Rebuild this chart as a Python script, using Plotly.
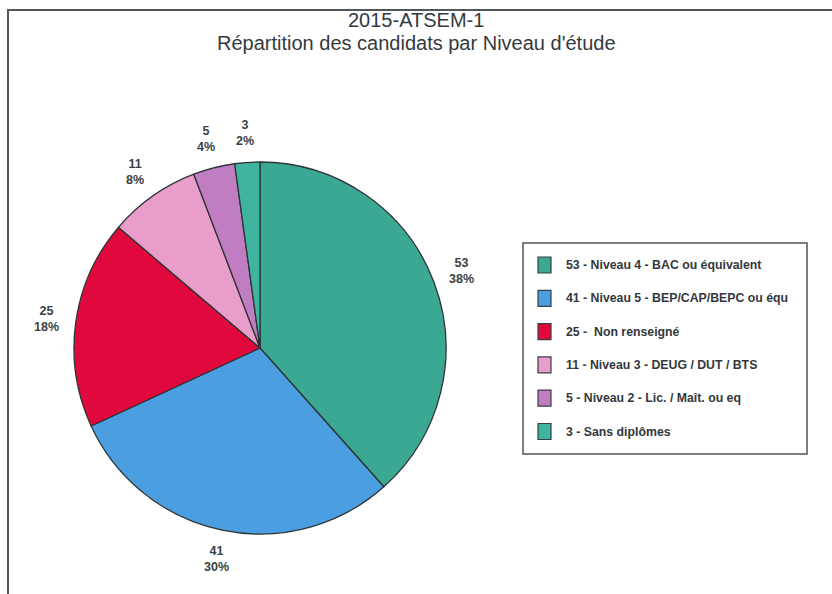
import math
import plotly.graph_objects as go

title_lines = ["2015-ATSEM-1", "Répartition des candidats par Niveau d'étude"]
categories = [
    "Niveau 4 - BAC ou équivalent",
    "Niveau 5 - BEP/CAP/BEPC ou équ",
    " Non renseigné",
    "Niveau 3 - DEUG / DUT / BTS",
    "Niveau 2 - Lic. / Maît. ou eq",
    "Sans diplômes",
]
values = [53, 41, 25, 11, 5, 3]
colors = ["#3aa892", "#4b9fe1", "#e0083c", "#e99dcb", "#c17dc2", "#3fb5a0"]

W, H = 832, 594
def px(x):
    return x / W
def py(y):
    return 1 - y / H

FONT = "Liberation Sans, Arial, sans-serif"
cx, cy, r = 260, 348, 186
label_dist = r + 30

fig = go.Figure(
    go.Pie(
        labels=[f"{v} - {c}" for v, c in zip(values, categories)],
        values=values,
        sort=False,
        direction="clockwise",
        rotation=0,
        marker=dict(colors=colors, line=dict(color="#2e3436", width=1.3)),
        textinfo="none",
        hoverinfo="label+value+percent",
        showlegend=False,
        domain=dict(x=[px(cx - r), px(cx + r)], y=[py(cy + r), py(cy - r)]),
    )
)

shapes = [
    # outer frame
    dict(type="rect", xref="paper", yref="paper", x0=px(8), x1=px(845), y0=py(610), y1=py(10),
         line=dict(color="#4f565c", width=2), fillcolor="rgba(0,0,0,0)", layer="below"),
    # legend box
    dict(type="rect", xref="paper", yref="paper", x0=px(523), x1=px(807), y0=py(454), y1=py(243),
         line=dict(color="#4f565c", width=1.5), fillcolor="rgba(0,0,0,0)"),
]
annotations = []

# title (two lines)
for i, t in enumerate(title_lines):
    annotations.append(dict(xref="paper", yref="paper", x=0.5, y=py(20 + i * 23),
                            xanchor="center", yanchor="middle", showarrow=False,
                            text=t, font=dict(family=FONT, size=20, color="#333a40")))

# data labels around the pie, at each slice's mid angle
total = sum(values)
cum = 0
for v in values:
    mid = (cum + v / 2) / total * 2 * math.pi
    cum += v
    lx = cx + label_dist * math.sin(mid)
    ly = cy - label_dist * math.cos(mid)
    annotations.append(dict(xref="paper", yref="paper", x=px(lx), y=py(ly),
                            xanchor="center", yanchor="middle", showarrow=False,
                            text=f"<b>{v}</b><br><b>{round(v / total * 100)}%</b>",
                            font=dict(family=FONT, size=12.5, color="#3a3f44")))

# legend
y0 = 265
step = 33.3
for i, (v, c, col) in enumerate(zip(values, categories, colors)):
    yc = y0 + i * step
    shapes.append(dict(type="rect", xref="paper", yref="paper",
                       x0=px(538), x1=px(551), y0=py(yc + 8), y1=py(yc - 8),
                       fillcolor=col, line=dict(color="#3a3f44", width=1.2)))
    annotations.append(dict(xref="paper", yref="paper", x=px(564), y=py(yc),
                            xanchor="left", yanchor="middle", showarrow=False,
                            text=f"<b>{v} - {c}</b>",
                            font=dict(family=FONT, size=12.3, color="#33383c")))

fig.update_layout(
    width=W, height=H,
    margin=dict(l=0, r=0, t=0, b=0),
    paper_bgcolor="white",
    plot_bgcolor="white",
    shapes=shapes,
    annotations=annotations,
)

fig.write_html("out.html", config={"displayModeBar": False},
               post_script="document.body.style.margin='0';")
